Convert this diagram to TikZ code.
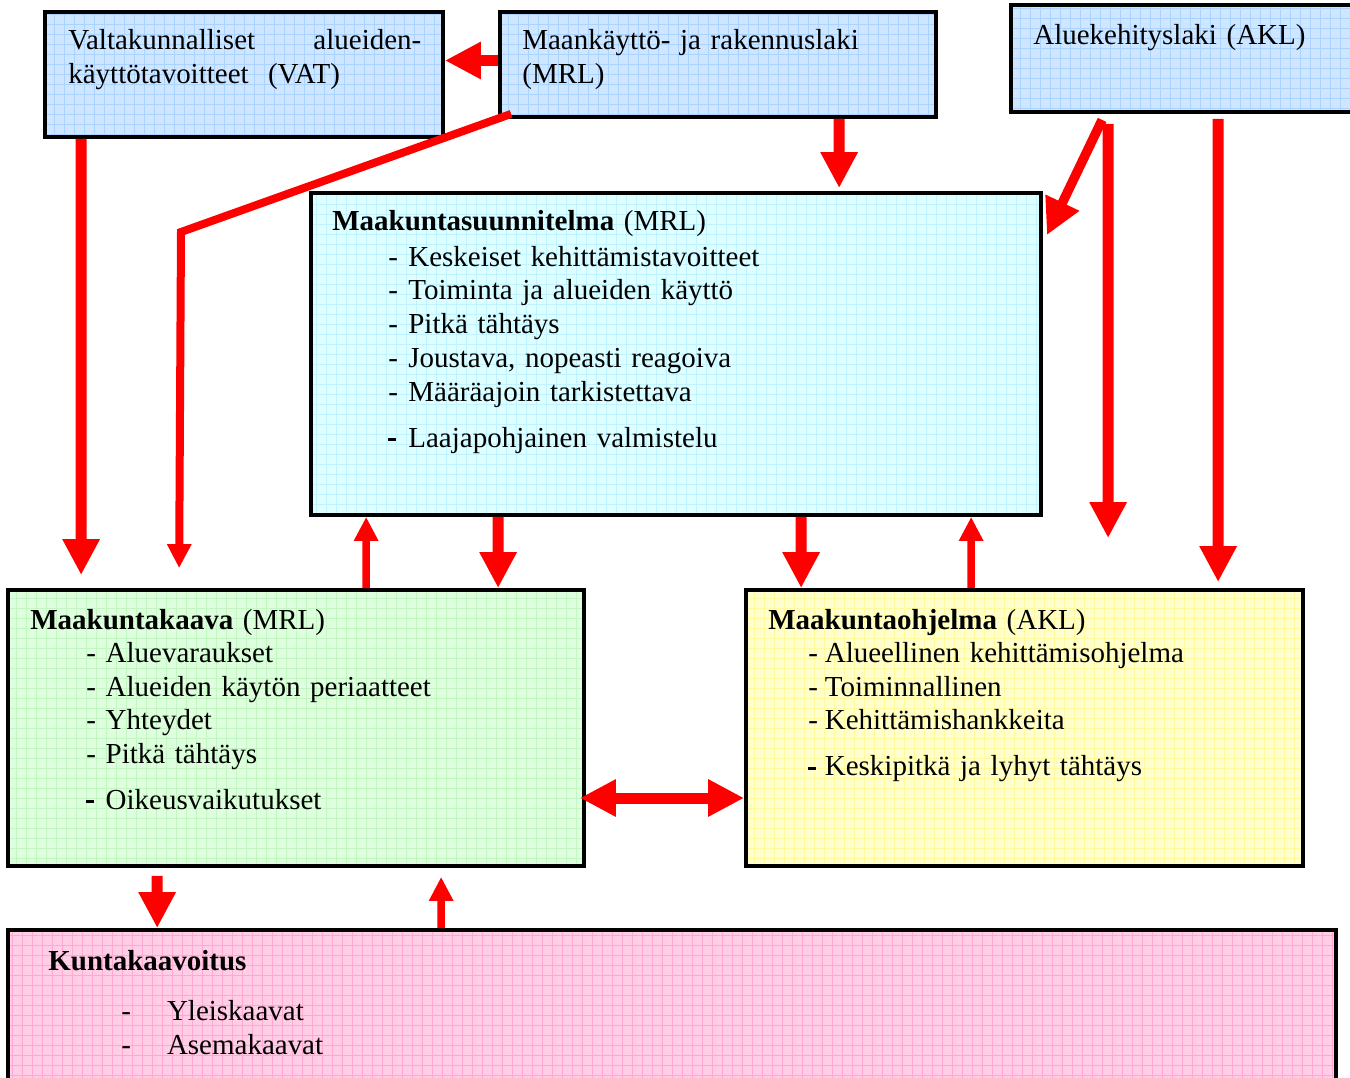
\documentclass[tikz,border=0pt]{standalone}
\usepackage{fontspec}
\setmainfont{Liberation Serif}
\usetikzlibrary{arrows.meta,calc}

\definecolor{vatfill}{RGB}{206,230,255}
\definecolor{vatgrid}{RGB}{170,212,255}
\definecolor{suunfill}{RGB}{222,255,255}
\definecolor{suungrid}{RGB}{192,242,255}
\definecolor{kaavafill}{RGB}{222,255,222}
\definecolor{kaavagrid}{RGB}{196,246,196}
\definecolor{ohjfill}{RGB}{255,255,206}
\definecolor{ohjgrid}{RGB}{255,250,160}
\definecolor{kuntafill}{RGB}{255,206,230}
\definecolor{kuntagrid}{RGB}{255,168,210}

\tikzset{
  every node/.style={font=\fontsize{16.5}{19.35}\selectfont},
  box/.style={draw, line width=2.2pt, inner sep=0pt, fill=#1fill,
    path picture={\draw[#1grid, line width=0.35pt] (path picture bounding box.south west)
      grid[step=0.2cm] (path picture bounding box.north east);}},
  txt/.style={anchor=base west, inner sep=0pt, align=left, text width=#1},
  txt/.default=10cm,
  bigarrow/.style={draw=red, line width=0.22cm, >={Triangle[length=0.72cm,width=0.7cm]}, ->},
  thinarrow/.style={draw=red, line width=0.15cm, >={Triangle[length=0.48cm,width=0.46cm]}, ->}
}
\newcommand{\itm}[1]{\makebox[#1][l]{-}}
\newcommand{\lastitm}[1]{\makebox[#1][l]{\rule[0.22em]{0.27em}{0.09em}}}

\begin{document}
\begin{tikzpicture}[x=0.02cm, y=-0.02cm]
  \useasboundingbox (0,0) rectangle (1350,1078);

  % laws at the top
  \node[box=vat, minimum width=7.96cm, minimum height=2.5cm] (vat) at (244,74.5) {};
  \node[box=vat, minimum width=8.72cm, minimum height=2.1cm] (mrl) at (718,64.5) {};
  \node[box=vat, minimum width=7.18cm, minimum height=2.14cm] (akl) at (1190.5,58.5) {};
  \node[txt=7.06cm] (vattext) at (68,50) {Valtakunnalliset\hfill alueiden-\\k\"aytt\"otavoitteet\ \ (VAT)};
  \node[txt] (mrltext) at (522,50) {Maank\"aytt\"o- ja rakennuslaki\\(MRL)};
  \node[txt] (akltext) at (1033,45) {Aluekehityslaki (AKL)};

  % plans
  \node[box=suun, minimum width=14.6cm, minimum height=6.44cm] (suun) at (676,354) {};
  \node[box=kaava, minimum width=11.52cm, minimum height=5.52cm] (kaava) at (296,728) {};
  \node[box=ohj, minimum width=11.14cm, minimum height=5.52cm] (ohj) at (1024.5,728) {};
  \node[box=kunta, minimum width=26.56cm, minimum height=3.4cm] (kunta) at (672,1015) {};

  \node[txt] (suuntitle) at (332,231) {\textbf{Maakuntasuunnitelma} (MRL)};
  \node[txt] (suunlist) at (388,266) {\itm{11.4pt}Keskeiset kehitt\"amistavoitteet\\
    \itm{11.4pt}Toiminta ja alueiden k\"aytt\"o\\
    \itm{11.4pt}Pitk\"a t\"aht\"ays\\
    \itm{11.4pt}Joustava, nopeasti reagoiva\\
    \itm{11.4pt}M\"a\"ar\"aajoin tarkistettava\\[6.3pt]
    \lastitm{11.4pt}Laajapohjainen valmistelu};

  \node[txt] (kaavatitle) at (30,629) {\textbf{Maakuntakaava} (MRL)};
  \node[txt] (kaavalist) at (86,662) {\itm{11pt}Aluevaraukset\\
    \itm{11pt}Alueiden k\"ayt\"on periaatteet\\
    \itm{11pt}Yhteydet\\
    \itm{11pt}Pitk\"a t\"aht\"ays\\[6.3pt]
    \lastitm{11pt}Oikeusvaikutukset};

  \node[txt] (ohjtitle) at (768,629) {\textbf{Maakuntaohjelma} (AKL)};
  \node[txt] (ohjlist) at (808,662) {\itm{9.4pt}Alueellinen kehitt\"amisohjelma\\
    \itm{9.4pt}Toiminnallinen\\
    \itm{9.4pt}Kehitt\"amishankkeita\\[6.8pt]
    \lastitm{9.4pt}Keskipitk\"a ja lyhyt t\"aht\"ays};

  \node[txt] (kuntatitle) at (48,970) {\textbf{Kuntakaavoitus}};
  \node[txt] (kuntalist) at (121,1020) {\itm{26pt}Yleiskaavat\\
    \itm{26pt}Asemakaavat};

  % arrows
  \coordinate (bend) at (181,232);
  \draw[bigarrow] ($(mrl.west)+(0,-4)$) -- ($(mrl.west -| vat.east)+(0,-4)$);
  \draw[bigarrow] ($(vat.south west)+(38,0)$) -- ($(kaava.north west)+(75,-13)$);
  \draw[thinarrow, line width=0.16cm] ($(mrl.south west)+(13,-5)$) -- (bend) -- ($(kaava.north west)+(173,-20)$);
  \draw[bigarrow] ($(mrl.south west)+(341,0)$) -- ($(suun.north west)+(530,-3)$);
  \draw[bigarrow, line width=0.19cm] ($(akl.south west)+(93,6)$) -- ($(suun.north east)+(4,44)$);
  \draw[bigarrow] ($(akl.south west)+(99,10)$) -- ($(ohj.north west)+(364,-50)$);
  \draw[bigarrow] ($(akl.south west)+(209,5)$) -- ($(ohj.north west)+(474,-6)$);

  \draw[thinarrow] ($(kaava.north west)+(360,0)$) -- ($(suun.south west)+(57,0)$);
  \draw[bigarrow] ($(suun.south west)+(189,0)$) -- ($(kaava.north west)+(492,0)$);
  \draw[bigarrow] ($(suun.south west)+(492,0)$) -- ($(ohj.north west)+(57,0)$);
  \draw[thinarrow] ($(ohj.north west)+(227,0)$) -- ($(suun.south west)+(662,0)$);

  \draw[bigarrow, <->] ($(kaava.east)+(-6,70)$) -- ($(ohj.west)+(0,70)$);

  \draw[bigarrow] ($(kaava.south west)+(151,8)$) -- ($(kunta.north west)+(151,0)$);
  \draw[thinarrow] ($(kunta.north west)+(435,0)$) -- ($(kaava.south west)+(435,9)$);
\end{tikzpicture}
\end{document}
